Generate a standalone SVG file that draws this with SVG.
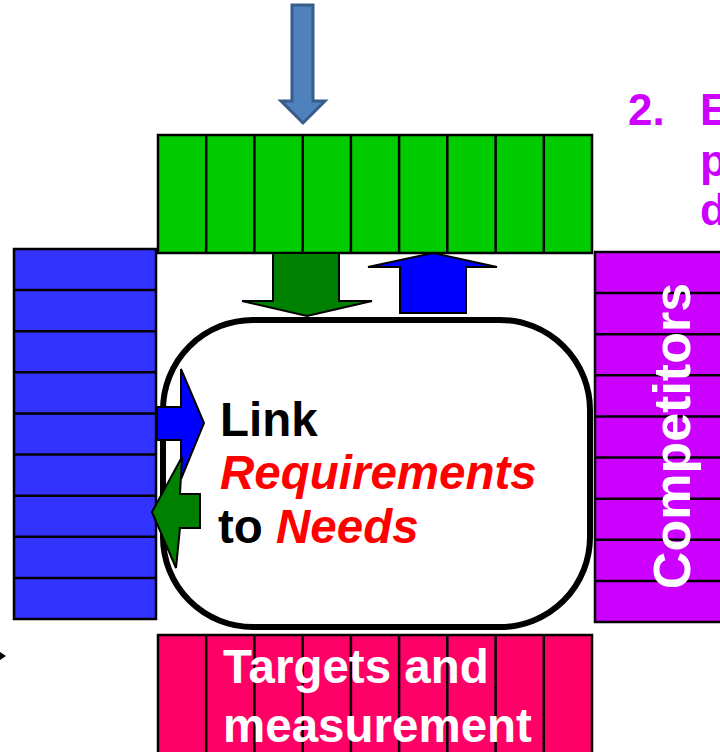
<svg xmlns="http://www.w3.org/2000/svg" width="720" height="752" viewBox="0 0 720 752">
<style>
.cell{stroke:#000;stroke-width:2.5}
.div{stroke:#000;stroke-width:2.5}
.arr{stroke:#000;stroke-width:2;stroke-linejoin:miter}
.t{font-family:"Liberation Sans",Arial,sans-serif;font-weight:bold}
</style>
<rect width="720" height="752" fill="#fff"/>
<g id="top-bar">
<rect class="cell" x="158" y="135" width="434" height="118" fill="#00cc00"/>
<path class="div" d="M206.2 135V253M254.4 135V253M302.7 135V253M350.9 135V253M399.1 135V253M447.3 135V253M495.6 135V253M543.8 135V253"/>
</g>
<g id="left-bar">
<rect class="cell" x="14" y="249" width="142" height="370" fill="#3333ff"/>
<path class="div" d="M14 290.1H156M14 331.2H156M14 372.3H156M14 413.4H156M14 454.6H156M14 495.7H156M14 536.8H156M14 577.9H156"/>
</g>
<g id="right-bar">
<rect class="cell" x="595" y="252" width="130" height="370" fill="#cc00ff"/>
<path class="div" d="M595 293.1H725M595 334.2H725M595 375.3H725M595 416.4H725M595 457.6H725M595 498.7H725M595 539.8H725M595 580.9H725"/>
<text class="t" transform="translate(690 436) rotate(-90)" text-anchor="middle" font-size="52" fill="#fff">Competitors</text>
</g>
<g id="bottom-bar">
<rect class="cell" x="158" y="635" width="434" height="125" fill="#ff0066"/>
<path class="div" d="M206.2 635V760M254.4 635V760M302.7 635V760M350.9 635V760M399.1 635V760M447.3 635V760M495.6 635V760M543.8 635V760"/>
<text class="t" font-size="47.5" fill="#fff"><tspan x="223" y="683">Targets and</tspan><tspan x="223" y="742">measurement</tspan></text>
</g>
<g id="center">
<rect x="163" y="320" width="427" height="307" rx="90" ry="90" fill="#fff" stroke="#000" stroke-width="6"/>
</g>
<g id="connectors">
<polygon points="292,5 313,5 313,101 325,101 303,123 281,101 292,101" fill="#4f81bd" stroke="#385d8a" stroke-width="3"/>
<polygon class="arr" points="273,253 339,253 339,301 372,301 307,316 242,301 273,301" fill="#008000"/>
<polygon class="arr" points="400,313 466,313 466,267 497,267 433,253 368,267 400,267" fill="#0000ff"/>
<polygon class="arr" points="157,407 181,407 181,369 204,423 181,479 181,440 157,440" fill="#0000ff"/>
<polygon class="arr" points="200,494 200,528 180,528 176,568 152,512 182,457 180,494" fill="#008000"/>
<path d="M0 652L6 656L0 660Z" fill="#000"/>
</g>
<g id="center-text" class="t" font-size="47.5">
<text x="220" y="436" fill="#000">Link</text>
<text x="220" y="489" fill="#ff0000" font-style="italic">Requirements</text>
<text x="218" y="543" fill="#000">to <tspan fill="#ff0000" font-style="italic">Needs</tspan></text>
</g>
<g id="note" class="t" font-size="44" fill="#cc00ff">
<text x="628" y="125">2.</text>
<text x="700" y="125">E</text>
<text x="700" y="176">p</text>
<text x="700" y="225">d</text>
</g>
</svg>
